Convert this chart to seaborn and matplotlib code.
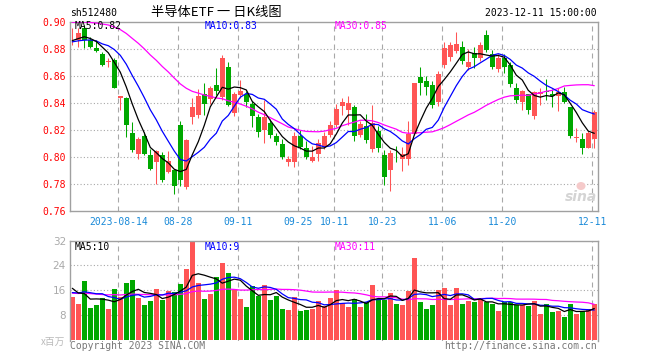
import numpy as np
import pandas as pd
import matplotlib
matplotlib.use("Agg")
import matplotlib.pyplot as plt
from matplotlib.patches import Ellipse
import seaborn as sns

# ---------------- data ----------------
open_ = [0.8886, 0.8867, 0.8953, 0.8867, 0.8810, 0.8763, 0.8703, 0.8718, 0.8435, 0.8435,
         0.8180, 0.8025, 0.8155, 0.8012, 0.7965, 0.8015, 0.7891, 0.7902, 0.8240, 0.7775,
         0.8299, 0.8311, 0.8464, 0.8430, 0.8535, 0.8447, 0.8669, 0.8323, 0.8462, 0.8464,
         0.8390, 0.8297, 0.8198, 0.8255, 0.8152, 0.8096, 0.7965, 0.7960, 0.8155, 0.8070,
         0.7973, 0.8020, 0.8077, 0.8163, 0.8235, 0.8380, 0.8350, 0.8370, 0.8160, 0.8232,
         0.8060, 0.8195, 0.8013, 0.7906, 0.8044, 0.7988, 0.7985, 0.8172, 0.8595, 0.8565,
         0.8533, 0.8405, 0.8685, 0.8740, 0.8785, 0.8817, 0.8670, 0.8768, 0.8731, 0.8904,
         0.8765, 0.8650, 0.8736, 0.8681, 0.8509, 0.8405, 0.8464, 0.8306, 0.8464, 0.8491,
         0.8464, 0.8452, 0.8484, 0.8373, 0.8138, 0.8133, 0.8069, 0.8133]
high = [0.8953, 0.8953, 0.8980, 0.8891, 0.8867, 0.8775, 0.8730, 0.8736, 0.8452, 0.8447,
        0.8260, 0.8150, 0.8184, 0.8061, 0.8052, 0.8040, 0.8044, 0.7910, 0.8270, 0.8133,
        0.8435, 0.8504, 0.8546, 0.8528, 0.8657, 0.8756, 0.8706, 0.8484, 0.8570, 0.8490,
        0.8415, 0.8320, 0.8422, 0.8280, 0.8180, 0.8130, 0.8005, 0.8188, 0.8200, 0.8120,
        0.8085, 0.8135, 0.8188, 0.8270, 0.8390, 0.8435, 0.8454, 0.8385, 0.8270, 0.8316,
        0.8385, 0.8230, 0.8050, 0.8049, 0.8078, 0.8074, 0.8270, 0.8550, 0.8669, 0.8600,
        0.8565, 0.8640, 0.8850, 0.8854, 0.8925, 0.8860, 0.8800, 0.8817, 0.8850, 0.8940,
        0.8790, 0.8760, 0.8760, 0.8706, 0.8546, 0.8496, 0.8470, 0.8490, 0.8510, 0.8577,
        0.8500, 0.8510, 0.8520, 0.8373, 0.8212, 0.8175, 0.8190, 0.8348]
low = [0.8829, 0.8812, 0.8805, 0.8805, 0.8775, 0.8677, 0.8669, 0.8509, 0.8348, 0.8150,
       0.8038, 0.7985, 0.8012, 0.7902, 0.7798, 0.7815, 0.7880, 0.7723, 0.7784, 0.7765,
       0.8242, 0.8290, 0.8311, 0.8390, 0.8460, 0.8422, 0.8380, 0.8306, 0.8435, 0.8370,
       0.8225, 0.8150, 0.8102, 0.8140, 0.8090, 0.7985, 0.7935, 0.7928, 0.8060, 0.7985,
       0.7965, 0.7968, 0.8060, 0.8150, 0.8220, 0.8310, 0.8237, 0.8119, 0.8150, 0.8101,
       0.8040, 0.8040, 0.7795, 0.7750, 0.7963, 0.7897, 0.7939, 0.8160, 0.8460, 0.8460,
       0.8360, 0.8380, 0.8660, 0.8710, 0.8770, 0.8690, 0.8644, 0.8660, 0.8710, 0.8780,
       0.8650, 0.8630, 0.8620, 0.8520, 0.8398, 0.8348, 0.8316, 0.8285, 0.8385, 0.8422,
       0.8370, 0.8340, 0.8400, 0.8143, 0.8114, 0.8020, 0.8065, 0.8069]
close = [0.8890, 0.8916, 0.8867, 0.8817, 0.8788, 0.8681, 0.8706, 0.8514, 0.8452, 0.8240,
         0.8050, 0.8130, 0.8020, 0.7914, 0.8048, 0.7830, 0.7970, 0.7784, 0.7828, 0.8128,
         0.8373, 0.8454, 0.8390, 0.8514, 0.8492, 0.8731, 0.8385, 0.8470, 0.8490, 0.8408,
         0.8303, 0.8186, 0.8297, 0.8160, 0.8112, 0.8002, 0.7985, 0.8157, 0.8075, 0.8000,
         0.8000, 0.8100, 0.8158, 0.8235, 0.8356, 0.8410, 0.8398, 0.8155, 0.8245, 0.8124,
         0.8250, 0.8068, 0.7854, 0.8030, 0.8042, 0.8025, 0.8172, 0.8546, 0.8546, 0.8521,
         0.8385, 0.8612, 0.8805, 0.8830, 0.8840, 0.8710, 0.8706, 0.8736, 0.8830, 0.8795,
         0.8669, 0.8731, 0.8669, 0.8540, 0.8422, 0.8489, 0.8348, 0.8479, 0.8479, 0.8481,
         0.8452, 0.8484, 0.8410, 0.8158, 0.8146, 0.8069, 0.8175, 0.8330]
volume = [13.9, 11.5, 19.0, 10.2, 11.2, 13.5, 9.9, 16.4, 13.9, 18.3,
          19.3, 13.5, 11.2, 12.5, 16.4, 12.8, 15.8, 15.4, 18.0, 23.0,
          31.7, 18.4, 13.1, 14.8, 20.2, 24.8, 21.6, 16.4, 13.1, 10.6,
          17.3, 14.2, 17.7, 12.8, 14.1, 9.9, 9.6, 13.9, 9.3, 9.6,
          9.9, 12.5, 10.9, 13.6, 16.1, 11.7, 10.7, 13.1, 10.7, 12.1,
          17.7, 12.8, 12.8, 15.1, 11.5, 11.2, 15.8, 26.5, 12.2, 9.9,
          11.2, 16.1, 16.8, 11.2, 16.8, 11.5, 12.5, 12.0, 13.0, 12.0,
          11.5, 9.3, 12.1, 12.1, 11.2, 11.2, 10.9, 12.5, 8.3, 11.5,
          8.9, 9.3, 7.4, 11.5, 8.3, 9.1, 9.9, 11.5]
# estimated sessions before the visible window (only feed the moving averages)
prior_close = [0.885, 0.888, 0.890, 0.893, 0.889, 0.892, 0.896, 0.903,
               0.910, 0.915, 0.921, 0.925, 0.928, 0.924, 0.920, 0.918, 0.915, 0.912,
               0.910, 0.906, 0.884, 0.882, 0.880, 0.886, 0.890, 0.884, 0.880, 0.888, 0.890]
prior_volume = [14.2, 16.8, 13.5, 15.9, 18.2, 12.7, 14.4, 17.1, 13.2, 15.6,
                16.3, 12.9, 14.8, 15.2, 13.6, 17.4, 14.1, 13.8, 16.0, 12.4,
                12.8, 15.1, 13.2, 14.6, 13.4, 19.0, 20.0, 19.2, 10.9]
tick_idx = [8, 18, 28, 38, 44, 52, 62, 72, 87]
tick_labels = ["2023-08-14", "08-28", "09-11", "09-25", "10-11", "10-23", "11-06", "11-20", "12-11"]
price_ticks = [0.76, 0.78, 0.80, 0.82, 0.84, 0.86, 0.88, 0.90]
vol_ticks = [8, 16, 24, 32]

# ---------------- style ----------------
sns.set_theme(style="white")
plt.rcParams["font.family"] = ["DejaVu Sans Mono", "Noto Sans CJK SC"]

RED = "#ff5555"
GREEN = "#00a800"
GRID = "#a8a8a8"
FRAME = "#a0a0a0"

n = len(close)
idx = np.arange(n)
df = pd.DataFrame({"i": idx, "open": open_, "high": high, "low": low,
                   "close": close, "volume": volume})
full_c = pd.Series(prior_close + close)
full_v = pd.Series(prior_volume + volume)
np_ = len(prior_close)
for w in (5, 10, 30):
    df[f"ma{w}"] = full_c.rolling(w).mean().iloc[np_:].to_numpy()
    df[f"vma{w}"] = full_v.rolling(w).mean().iloc[np_:].to_numpy()
up = df["close"] >= df["open"]
cols = np.where(up, RED, GREEN)

W, H = 660, 360
fig = plt.figure(figsize=(W / 100, H / 100), dpi=100)
fig.patch.set_facecolor("white")
L, R = 70.3, 597.7
ax = fig.add_axes([L / W, 1 - 211 / H, (R - L) / W, 189 / H])
axv = fig.add_axes([L / W, 1 - 340.5 / H, (R - L) / W, 99.8 / H])

xmin, xmax = -0.333, 87.57
grid_x = np.array(tick_idx) - 0.333

# ---------------- price panel ----------------
ax.set_xlim(xmin, xmax)
ax.set_ylim(0.76, 0.90)
for y in price_ticks[1:-1]:
    ax.axhline(y, color=GRID, lw=0.8, ls=(0, (1, 2)), zorder=0)
for x in grid_x:
    ax.axvline(x, color=GRID, lw=0.8, ls=(0, (4.5, 3.6)), zorder=0)

ax.vlines(df["i"], df["low"], df["high"], colors=cols, lw=0.75, zorder=2)
body_h = np.maximum((df["close"] - df["open"]).abs(), 0.0005)
body_b = np.minimum(df["open"], df["close"])
ax.bar(df["i"], body_h, bottom=body_b, width=0.83, color=cols, lw=0, zorder=3)

sns.lineplot(data=df, x="i", y="ma30", ax=ax, color="#ff00ff", lw=0.9, zorder=4, estimator=None)
sns.lineplot(data=df, x="i", y="ma10", ax=ax, color="#0000ff", lw=0.9, zorder=4, estimator=None)
sns.lineplot(data=df, x="i", y="ma5", ax=ax, color="black", lw=0.9, zorder=4, estimator=None)

ax.set_yticks(price_ticks)
ax.set_yticklabels([f"{v:.2f}" for v in price_ticks], color="#ff0000", fontsize=7)
ax.set_xticks(grid_x)
ax.set_xticklabels(tick_labels, color="#1a8ad8", fontsize=7)
ax.tick_params(axis="y", length=0, pad=3.1)
ax.tick_params(axis="x", length=0, pad=4.5)
ax.set_xlabel("")
ax.set_ylabel("")
for s in ax.spines.values():
    s.set_color(FRAME)
    s.set_linewidth(1.0)

# ---------------- volume panel ----------------
axv.set_xlim(xmin, xmax)
axv.set_ylim(-0.3, 32)
for y in vol_ticks[:-1]:
    axv.axhline(y, color=GRID, lw=0.8, ls=(0, (1, 2)), zorder=0)
for x in grid_x:
    axv.axvline(x, color=GRID, lw=0.8, ls=(0, (4.5, 3.6)), zorder=0)
axv.bar(df["i"], df["volume"], width=0.83, color=cols, lw=0, zorder=2)
sns.lineplot(data=df, x="i", y="vma30", ax=axv, color="#ff00ff", lw=0.9, zorder=4, estimator=None)
sns.lineplot(data=df, x="i", y="vma10", ax=axv, color="#0000ff", lw=0.9, zorder=4, estimator=None)
sns.lineplot(data=df, x="i", y="vma5", ax=axv, color="black", lw=0.9, zorder=4, estimator=None)
axv.set_xticks([])
axv.set_yticks(vol_ticks)
axv.set_yticklabels([str(v) for v in vol_ticks], color="#aaaaaa", fontsize=7.5,
                    family="DejaVu Sans")
axv.tick_params(axis="y", length=0, pad=3.1)
axv.set_xlabel("")
axv.set_ylabel("")
for s in axv.spines.values():
    s.set_color(FRAME)
    s.set_linewidth(1.0)
axv.spines["bottom"].set_visible(False)

# ---------------- texts ----------------
def ftext(x, y, s, **kw):
    fig.text(x / W, 1 - y / H, s, va="center", **kw)

ftext(70, 12.5, "sh512480", fontsize=7, color="black")
ftext(216, 12.5, "半导体ETF 一 日K线图", fontsize=9.5, ha="center", color="black",
      family=["Noto Sans CJK SC", "DejaVu Sans"])
ftext(597, 12.5, "2023-12-11 15:00:00", fontsize=7, ha="right", color="black")

ma5_last, ma10_last, ma30_last = df["ma5"].iloc[-1], df["ma10"].iloc[-1], df["ma30"].iloc[-1]
ftext(75, 26, f"MA5:{ma5_last:.2f}", fontsize=7, color="black")
ftext(205, 26, f"MA10:{ma10_last:.2f}", fontsize=7, color="#0000ff")
ftext(335, 26, f"MA30:{ma30_last:.2f}", fontsize=7, color="#ff00ff")

ftext(75, 247, f"MA5:{int(df['vma5'].iloc[-1])}", fontsize=7, color="black")
ftext(205, 247, f"MA10:{int(df['vma10'].iloc[-1])}", fontsize=7, color="#0000ff")
ftext(335, 247, f"MA30:{int(round(df['vma30'].iloc[-1]))}", fontsize=7, color="#ff00ff")

ftext(65, 342, "x百万", fontsize=7, ha="right", color="#bbbbbb",
      family=["Noto Sans CJK SC", "DejaVu Sans"])
ftext(70, 346, "Copyright 2023 SINA.COM", fontsize=7, color="#777777")
ftext(597, 346, "http://finance.sina.com.cn", fontsize=7, ha="right", color="#777777")

# faint sina watermark
ftext(597, 197, "sina", fontsize=10, ha="right", color="#d4d4d4",
      family="DejaVu Sans", weight="bold", style="italic")
fig.add_artist(Ellipse((581 / W, 1 - 186 / H), 9 / W, 8 / H,
                       transform=fig.transFigure, facecolor="#f5caca", edgecolor="none"))

fig.savefig("out.png", dpi=100, facecolor="white")
